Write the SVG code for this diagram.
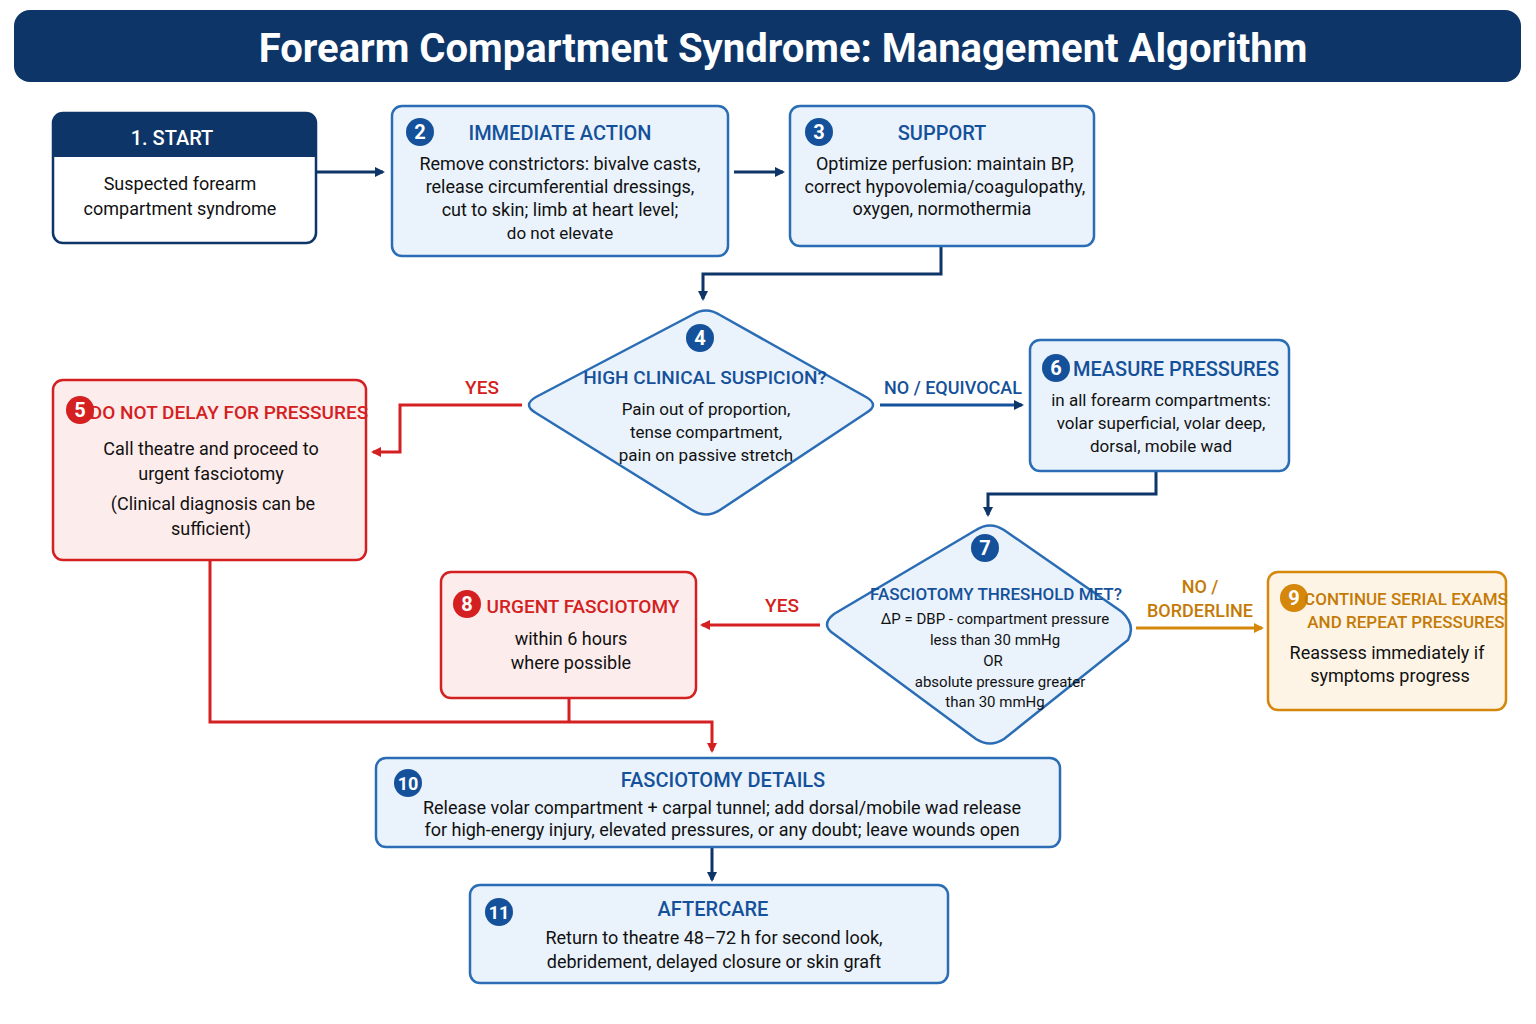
<svg xmlns="http://www.w3.org/2000/svg" width="1536" height="1024" viewBox="0 0 1536 1024">
<defs>
<style>
text{font-family:Roboto,"Liberation Sans",sans-serif;text-anchor:middle}
.b{fill:#eaf3fc;stroke:#2a6db5;stroke-width:2.5}
.r{fill:#fdecec;stroke:#d42020;stroke-width:2.5}
.o{fill:#fdf4e6;stroke:#d4870a;stroke-width:2.5}
.t{font-size:18px;fill:#111}
.s{font-size:15px;fill:#111}
.hb{font-size:20px;font-weight:500;fill:#15519a}
.hr{font-size:19px;font-weight:500;fill:#d42020}
.ho{font-size:18px;font-weight:500;fill:#c47a05}
.n{font-size:20px;font-weight:bold;fill:#fff}
.cn{stroke:#0d3568;stroke-width:3;fill:none}
.cr{stroke:#d42020;stroke-width:3;fill:none}
.co{stroke:#d4870a;stroke-width:3;fill:none}
</style>
<marker id="an" markerWidth="10" markerHeight="10" refX="8" refY="5" orient="auto" markerUnits="userSpaceOnUse" viewBox="0 0 10 10"><path d="M0,0L10,5L0,10z" fill="#0d3568"/></marker>
<marker id="ar" markerWidth="10" markerHeight="10" refX="8" refY="5" orient="auto" markerUnits="userSpaceOnUse" viewBox="0 0 10 10"><path d="M0,0L10,5L0,10z" fill="#d42020"/></marker>
<marker id="ao" markerWidth="10" markerHeight="10" refX="8" refY="5" orient="auto" markerUnits="userSpaceOnUse" viewBox="0 0 10 10"><path d="M0,0L10,5L0,10z" fill="#d4870a"/></marker>
</defs>
<rect width="1536" height="1024" fill="#fff"/>
<g id="title"><rect x="14" y="10" width="1507" height="72" rx="16" fill="#0d3568"/><text x="783" y="62" style="font-size:40px;font-weight:bold;fill:#fff">Forearm Compartment Syndrome: Management Algorithm</text></g>
<g id="connectors">
<path class="cn" d="M316,172H383" marker-end="url(#an)"/>
<path class="cn" d="M734,172H783" marker-end="url(#an)"/>
<path class="cn" d="M941,246V274H703V299" marker-end="url(#an)"/>
<path class="cr" d="M522,405H400V452H373" marker-end="url(#ar)"/>
<text x="482" y="394" class="hr">YES</text>
<path class="cn" d="M880,405H1022" marker-end="url(#an)" style="stroke:#15519a"/>
<text x="953" y="394" class="hb" style="font-size:18px">NO / EQUIVOCAL</text>
<path class="cn" d="M1156,471V494H988V515" marker-end="url(#an)"/>
<path class="cr" d="M820,625H702" marker-end="url(#ar)"/>
<text x="782" y="612" class="hr">YES</text>
<path class="co" d="M1136,628H1262" marker-end="url(#ao)"/>
<text x="1200" y="593" class="ho">NO /</text><text x="1200" y="617" class="ho">BORDERLINE</text>
<path class="cr" d="M210,560V722H712V751" marker-end="url(#ar)"/>
<path class="cr" d="M569,698V722"/>
<path class="cn" d="M712,847V880" marker-end="url(#an)"/>
</g>
<g id="n1"><rect x="53" y="113" width="263" height="130" rx="10" fill="#fff" stroke="#0d3568" stroke-width="2.5"/><path d="M53,157V123a10,10 0 0 1 10,-10H306a10,10 0 0 1 10,10V157z" fill="#0d3568"/><text x="172" y="145" class="n" style="font-weight:500">1. START</text><text x="180" y="190" class="t">Suspected forearm</text><text x="180" y="215" class="t">compartment syndrome</text></g>
<g id="n2"><rect x="392" y="106" width="336" height="150" rx="10" class="b"/><circle cx="420" cy="132" r="14" fill="#15519a"/><text x="420" y="139" class="n">2</text><text x="560" y="140" class="hb">IMMEDIATE ACTION</text><text x="560" y="170" class="t">Remove constrictors: bivalve casts,</text><text x="560" y="193" class="t">release circumferential dressings,</text><text x="560" y="216" class="t">cut to skin; limb at heart level;</text><text x="560" y="239" class="s" style="font-size:17px">do not elevate</text></g>
<g id="n3"><rect x="790" y="106" width="304" height="140" rx="10" class="b"/><circle cx="819" cy="132" r="14" fill="#15519a"/><text x="819" y="139" class="n">3</text><text x="942" y="140" class="hb">SUPPORT</text><text x="945" y="170" class="t">Optimize perfusion: maintain BP,</text><text x="945" y="193" class="t">correct hypovolemia/coagulopathy,</text><text x="942" y="215" class="t">oxygen, normothermia</text></g>
<g id="n4"><path d="M692,315Q706,306 720,315L866,397Q880,405 866,413L720,510Q706,519 692,510L536,413Q522,405 536,397z" class="b"/><circle cx="700" cy="338" r="14" fill="#15519a"/><text x="700" y="345" class="n">4</text><text x="705" y="384" class="hb" style="font-size:19px">HIGH CLINICAL SUSPICION?</text><text x="706" y="415" class="s" style="font-size:17px">Pain out of proportion,</text><text x="706" y="438" class="s" style="font-size:17px">tense compartment,</text><text x="706" y="461" class="s" style="font-size:17px">pain on passive stretch</text></g>
<g id="n5"><rect x="53" y="380" width="313" height="180" rx="10" class="r"/><circle cx="80" cy="410" r="14" fill="#d42020"/><text x="80" y="417" class="n">5</text><text x="229" y="419" class="hr">DO NOT DELAY FOR PRESSURES</text><text x="211" y="455" class="t">Call theatre and proceed to</text><text x="211" y="480" class="t">urgent fasciotomy</text><text x="213" y="510" class="t">(Clinical diagnosis can be</text><text x="211" y="535" class="t">sufficient)</text></g>
<g id="n6"><rect x="1030" y="340" width="259" height="131" rx="10" class="b"/><circle cx="1056" cy="368" r="14" fill="#15519a"/><text x="1056" y="375" class="n">6</text><text x="1176" y="376" class="hb">MEASURE PRESSURES</text><text x="1161" y="406" class="s" style="font-size:17px">in all forearm compartments:</text><text x="1161" y="429" class="s" style="font-size:17px">volar superficial, volar deep,</text><text x="1161" y="452" class="s" style="font-size:17px">dorsal, mobile wad</text></g>
<g id="n7"><path d="M976,530Q990,521 1004,530L1122,612Q1136,625 1128,640L1004,739Q990,748 976,739L834,634Q820,625 834,614z" class="b"/><circle cx="985" cy="548" r="14" fill="#15519a"/><text x="985" y="555" class="n">7</text><text x="996" y="600" class="hb" style="font-size:17px">FASCIOTOMY THRESHOLD MET?</text><text x="995" y="624" class="s">ΔP = DBP - compartment pressure</text><text x="995" y="645" class="s">less than 30 mmHg</text><text x="993" y="666" class="s">OR</text><text x="1000" y="687" class="s">absolute pressure greater</text><text x="995" y="707" class="s">than 30 mmHg</text></g>
<g id="n8"><rect x="441" y="572" width="255" height="126" rx="10" class="r"/><circle cx="467" cy="604" r="14" fill="#d42020"/><text x="467" y="611" class="n">8</text><text x="583" y="613" class="hr">URGENT FASCIOTOMY</text><text x="571" y="645" class="t">within 6 hours</text><text x="571" y="669" class="t">where possible</text></g>
<g id="n9"><rect x="1268" y="572" width="238" height="138" rx="10" class="o"/><circle cx="1294" cy="598" r="14" fill="#d4870a"/><text x="1294" y="605" class="n">9</text><text x="1406" y="605" class="ho" style="font-size:17px">CONTINUE SERIAL EXAMS</text><text x="1406" y="628" class="ho" style="font-size:17px">AND REPEAT PRESSURES</text><text x="1387" y="659" class="t">Reassess immediately if</text><text x="1390" y="682" class="t">symptoms progress</text></g>
<g id="n10"><rect x="376" y="758" width="684" height="89" rx="10" class="b"/><circle cx="408" cy="783" r="14" fill="#15519a"/><text x="408" y="790" class="n" style="font-size:18px">10</text><text x="723" y="787" class="hb">FASCIOTOMY DETAILS</text><text x="722" y="814" class="t">Release volar compartment + carpal tunnel; add dorsal/mobile wad release</text><text x="722" y="836" class="t">for high-energy injury, elevated pressures, or any doubt; leave wounds open</text></g>
<g id="n11"><rect x="470" y="885" width="478" height="98" rx="10" class="b"/><circle cx="499" cy="912" r="14" fill="#15519a"/><text x="499" y="919" class="n" style="font-size:18px">11</text><text x="713" y="916" class="hb">AFTERCARE</text><text x="714" y="944" class="t">Return to theatre 48–72 h for second look,</text><text x="714" y="968" class="t">debridement, delayed closure or skin graft</text></g>
</svg>
